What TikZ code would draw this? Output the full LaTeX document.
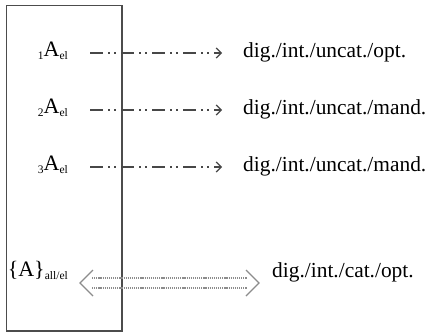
\documentclass[tikz,border=0pt]{standalone}
\usepackage{fontspec}
\setmainfont{Liberation Serif}
\usetikzlibrary{arrows.meta}
% small lowered index, used before and after the letter
\newcommand{\lowidx}[1]{\raisebox{-3pt}{\fontsize{11.5}{12}\selectfont #1}}

\begin{document}
\begin{tikzpicture}[x=1pt,y=-1pt,
  lab/.style={font=\fontsize{22}{24}\selectfont, inner sep=0pt, anchor=base east},
  cat/.style={font=\fontsize{21.4}{24}\selectfont, inner sep=0pt, anchor=base west},
  frame/.style={draw=black!70, line width=1.1pt},
  link/.style={draw=black!72, line width=1.8pt,
    dash pattern=on 13pt off 5pt on 1.5pt off 4.5pt on 1.5pt off 5.5pt,
    -{Straight Barb[length=5pt,width=10pt,line width=1.2pt]}},
  dotline/.style={draw=black!45, line width=1.6pt, dash pattern=on 1.2pt off 0.9pt},
  chev/.style={draw=black!45, line width=1.1pt},
]
\useasboundingbox (0,0) rectangle (427,332);

% left frame
\draw[frame] (6.5,5.5) rectangle (122,331);

% indexed items
\node[lab] (a1) at (68,56) {\lowidx{1}A\lowidx{el}};
\node[lab] (a2) at (68,113) {\lowidx{2}A\lowidx{el}};
\node[lab] (a3) at (68,170) {\lowidx{3}A\lowidx{el}};
\node[lab] (aset) at (68,276) {\{A\}\lowidx{all/el}};

% feature descriptions
\node[cat] (c1) at (243,57) {dig./int./uncat./opt.};
\node[cat] (c2) at (243,114) {dig./int./uncat./mand.};
\node[cat] (c3) at (243,171) {dig./int./uncat./mand.};
\node[cat] (cset) at (272,277) {dig./int./cat./opt.};

% dash-dot-dot arrows
\coordinate (s1) at (90,53);  \coordinate (e1) at (222,53);
\coordinate (s2) at (90,110); \coordinate (e2) at (222,110);
\coordinate (s3) at (90,167); \coordinate (e3) at (222,167);
\draw[link] (s1) -- (e1);
\draw[link] (s2) -- (e2);
\draw[link] (s3) -- (e3);

% double dotted two-way arrow
\coordinate (bl) at (80,283);
\coordinate (br) at (259,283);
\draw[dotline] ([shift={(12,-5)}]bl) -- ([shift={(-12,-5)}]br);
\draw[dotline] ([shift={(12,5)}]bl) -- ([shift={(-12,5)}]br);
\draw[chev] ([shift={(13,-13)}]bl) -- (bl) -- ([shift={(13,13)}]bl);
\draw[chev] ([shift={(-13,-13)}]br) -- (br) -- ([shift={(-13,13)}]br);
\end{tikzpicture}
\end{document}
